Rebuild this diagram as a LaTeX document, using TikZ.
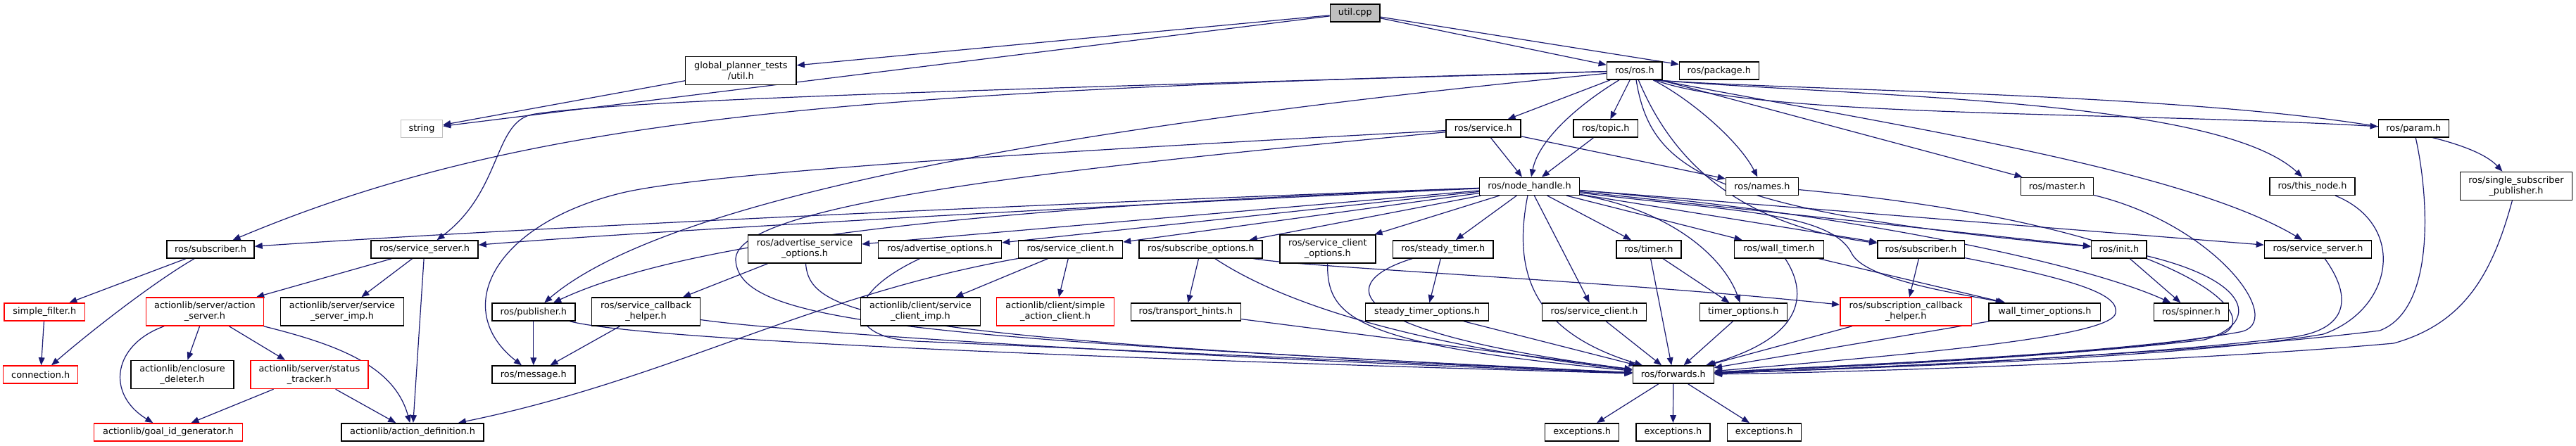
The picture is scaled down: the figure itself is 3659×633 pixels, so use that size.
\documentclass[tikz,border=0pt]{standalone}
\usepackage{fontspec}
\setmainfont{DejaVu Sans}
\usetikzlibrary{arrows.meta}
\definecolor{edgec}{HTML}{191970}
\definecolor{grey75}{HTML}{BFBFBF}
\pgfdeclarelayer{edgelayer}
\pgfsetlayers{edgelayer,main}
\begin{document}
\begin{tikzpicture}[x=0.5pt,y=-0.5pt,
  box/.style={draw=black, line width=0.75pt, fill=white, inner xsep=3pt, inner ysep=0pt, align=center,
     minimum height=12.5pt, font=\fontsize{6.42pt}{7.5pt}\selectfont},
  two/.style={minimum height=20pt},
  trunc/.style={draw=red},
  e/.style={draw=edgec, line width=0.6pt, -{Triangle[length=5.5pt,width=4.4pt]}}]
\useasboundingbox (0,0) rectangle (3659,633);
% row 0
\node[box, fill=grey75, minimum width=35.4pt] (util) at (1924.8,18.4) {util.cpp};
% row 1
\node[box, two, minimum width=78.7pt] (gpt) at (1052.4,100.3) {global\_planner\_tests\\/util.h};
\node[box, minimum width=39.4pt] (ros) at (2321.8,100.5) {ros/ros.h};
\node[box, minimum width=56.5pt] (pkg) at (2441.8,100.5) {ros/package.h};
% row 2
\node[box, draw=grey75, minimum width=29.5pt] (string) at (599,183) {string};
\node[box, minimum width=52.8pt] (service) at (2107,182.7) {ros/service.h};
\node[box, minimum width=45.7pt] (topic) at (2280.7,182.7) {ros/topic.h};
\node[box, minimum width=50pt] (param) at (3428.3,182.7) {ros/param.h};
% row 3
\node[box, minimum width=70.8pt] (nh) at (2172.5,264.8) {ros/node\_handle.h};
\node[box, minimum width=51.5pt] (names) at (2503,264.8) {ros/names.h};
\node[box, minimum width=51.5pt] (master) at (2921.9,264.8) {ros/master.h};
\node[box, minimum width=60.5pt] (thisnode) at (3284.5,264.8) {ros/this\_node.h};
\node[box, two, minimum width=79.7pt] (ssp) at (3574,264.4) {ros/single\_subscriber\\\_publisher.h};
% row 4
\node[box, minimum width=62pt] (subL) at (299,354.5) {ros/subscriber.h};
\node[box, minimum width=76pt] (ssL) at (603,354.5) {ros/service\_server.h};
\node[box, two, minimum width=80.5pt] (advso) at (1143,354) {ros/advertise\_service\\\_options.h};
\node[box, minimum width=87.5pt] (advo) at (1335,354.3) {ros/advertise\_options.h};
\node[box, minimum width=74pt] (scU) at (1520.5,354.3) {ros/service\_client.h};
\node[box, minimum width=87.5pt] (subo) at (1705.7,354.3) {ros/subscribe\_options.h};
\node[box, two, minimum width=68pt] (sco) at (1885.8,354) {ros/service\_client\\\_options.h};
\node[box, minimum width=71.4pt] (steady) at (2049.7,354.3) {ros/steady\_timer.h};
\node[box, minimum width=46pt] (timer) at (2342,354.3) {ros/timer.h};
\node[box, minimum width=63.5pt] (wall) at (2527,354.3) {ros/wall\_timer.h};
\node[box, minimum width=61.7pt] (subR) at (2728.6,354.3) {ros/subscriber.h};
\node[box, minimum width=39.3pt] (init) at (3009.9,354.3) {ros/init.h};
\node[box, minimum width=76pt] (ssR) at (3292.5,354.3) {ros/service\_server.h};
% row 5
\node[box, trunc, minimum width=57.3pt] (simple) at (63.3,443.5) {simple\_filter.h};
\node[box, two, trunc, minimum width=83.3pt] (as) at (291,443) {actionlib/server/action\\\_server.h};
\node[box, two, minimum width=87.5pt] (ssimp) at (486,443) {actionlib/server/service\\\_server\_imp.h};
\node[box, minimum width=59pt] (pub) at (757.8,443.5) {ros/publisher.h};
\node[box, two, minimum width=77pt] (sch) at (917.5,443) {ros/service\_callback\\\_helper.h};
\node[box, two, minimum width=85pt] (scimp) at (1307.4,443) {actionlib/client/service\\\_client\_imp.h};
\node[box, two, trunc, minimum width=83.5pt] (sac) at (1499,443) {actionlib/client/simple\\\_action\_client.h};
\node[box, minimum width=78pt] (th) at (1684.4,443.5) {ros/transport\_hints.h};
\node[box, minimum width=87.4pt] (sto) at (2027,443.5) {steady\_timer\_options.h};
\node[box, minimum width=74pt] (scL) at (2264.5,443.5) {ros/service\_client.h};
\node[box, minimum width=62pt] (to) at (2476.3,443.5) {timer\_options.h};
\node[box, two, trunc, minimum width=93.4pt] (subcb) at (2707.2,443) {ros/subscription\_callback\\\_helper.h};
\node[box, minimum width=79.3pt] (wto) at (2904.3,443.5) {wall\_timer\_options.h};
\node[box, minimum width=52.8pt] (spin) at (3112.5,443.5) {ros/spinner.h};
% row 6
\node[box, trunc, minimum width=53pt] (conn) at (57.7,532.5) {connection.h};
\node[box, two, minimum width=73pt] (encl) at (259,532.5) {actionlib/enclosure\\\_deleter.h};
\node[box, two, trunc, minimum width=83.5pt] (st) at (439.4,532.5) {actionlib/server/status\\\_tracker.h};
\node[box, minimum width=59pt] (msg) at (757.8,532.5) {ros/message.h};
\node[box, minimum width=57.5pt] (fwd) at (2376.8,532.5) {ros/forwards.h};
% row 7
\node[box, trunc, minimum width=105.5pt] (gid) at (239,614.3) {actionlib/goal\_id\_generator.h};
\node[box, minimum width=101pt] (ad) at (586,614.3) {actionlib/action\_definition.h};
\node[box, minimum width=52.5pt] (ex1) at (2247.2,614.3) {exceptions.h};
\node[box, minimum width=52.5pt] (ex2) at (2376.4,614.3) {exceptions.h};
\node[box, minimum width=52.5pt] (ex3) at (2505.8,614.3) {exceptions.h};

\begin{pgfonlayer}{edgelayer}
\draw[e] (util) -- (gpt);
\draw[e] (util) -- (string);
\draw[e] (util) -- (ros);
\draw[e] (util) -- (pkg);
\draw[e] (gpt) -- (string);
% ros/ros.h
\draw[e] (ros) .. controls (1200,130) and (750,165) .. (subL);
\draw[e] (ros) .. controls (1500,125) and (900,140) .. (760,162) .. controls (700,170) and (715,270) .. (ssL);
\draw[e] (ros) .. controls (1600,170) and (960,270) .. (pub);
\draw[e] (ros) -- (service);
\draw[e] (ros) .. controls (2240,150) and (2185,200) .. (nh);
\draw[e] (ros) -- (topic);
\draw[e] (ros) .. controls (2400,140) and (2470,200) .. (names);
\draw[e] (ros.-20) -- (master);
\draw[e] (ros.-25) .. controls (2500,168) and (3000,158) .. (param);
\draw[e] (ros.-25) .. controls (2600,133) and (3450,133) .. (ssp);
\draw[e] (ros.-25) .. controls (2650,138) and (3150,140) .. (thisnode);
\draw[e] (ros.-22) .. controls (2700,180) and (3100,240) .. (ssR);
\draw[e] (ros) .. controls (2345,240) and (2420,300) .. (init);
\draw[e] (ros) .. controls (2380,240) and (2480,320) .. (subR);
% ros/service.h, topic
\draw[e] (service) -- (nh);
\draw[e] (service) -- (names);
\draw[e] (service) .. controls (1500,215) and (1000,245) .. (880,275) .. controls (700,320) and (640,440) .. (msg);
\draw[e] (service) .. controls (1500,240) and (1040,290) .. (1045,370) .. controls (1050,460) and (1300,480) .. (fwd);
\draw[e] (topic) -- (nh);
% node_handle
\draw[e] (nh) .. controls (1600,285) and (800,320) .. (subL);
\draw[e] (nh) .. controls (1600,290) and (900,330) .. (ssL);
\draw[e] (nh) .. controls (1500,290) and (1000,330) .. (pub);
\draw[e] (nh) -- (advso);
\draw[e] (nh) -- (advo);
\draw[e] (nh) -- (scU);
\draw[e] (nh) -- (subo);
\draw[e] (nh) -- (sco);
\draw[e] (nh) -- (steady);
\draw[e] (nh) -- (timer);
\draw[e] (nh) -- (scL);
\draw[e] (nh) .. controls (2150,380) and (2170,470) .. (fwd);
\draw[e] (nh) .. controls (2380,300) and (2450,370) .. (to);
\draw[e] (nh) -- (wall);
\draw[e] (nh) -- (subR);
\draw[e] (nh) -- (init);
\draw[e] (nh) -- (ssR);
\draw[e] (nh) .. controls (2600,300) and (2950,370) .. (spin);
\draw[e] (nh) .. controls (2450,300) and (2600,300) .. (2630,360) .. controls (2650,400) and (2800,420) .. (wto);
% left part
\draw[e] (subL) -- (simple);
\draw[e] (subL) .. controls (220,400) and (130,470) .. (conn);
\draw[e] (simple) -- (conn);
\draw[e] (ssL) -- (as);
\draw[e] (ssL) -- (ssimp);
\draw[e] (ssL) -- (ad);
\draw[e] (as) -- (encl);
\draw[e] (as) -- (st);
\draw[e] (as) .. controls (160,490) and (150,560) .. (gid);
\draw[e] (as) .. controls (480,490) and (560,520) .. (ad);
\draw[e] (st) -- (gid);
\draw[e] (st) -- (ad);
\draw[e] (pub) -- (msg);
\draw[e] (pub) .. controls (900,480) and (1400,505) .. (fwd);
\draw[e] (sch) -- (msg);
\draw[e] (sch) .. controls (1100,470) and (1600,505) .. (fwd);
\draw[e] (advso) -- (sch);
\draw[e] (advso) .. controls (1150,450) and (1250,480) .. (fwd);
\draw[e] (advo) .. controls (1195,420) and (1200,480) .. (1300,485) -- (fwd);
\draw[e] (scU) -- (scimp);
\draw[e] (scU) -- (sac);
\draw[e] (scU) .. controls (1150,420) and (950,540) .. (ad);
\draw[e] (subo) -- (th);
\draw[e] (subo) .. controls (1820,430) and (2000,490) .. (fwd);
\draw[e] (subo) .. controls (1850,380) and (2300,400) .. (subcb);
\draw[e] (th) -- (fwd);
\draw[e] (sco) .. controls (1885,450) and (1920,490) .. (fwd);
\draw[e] (steady) -- (sto);
\draw[e] (steady) .. controls (1900,400) and (1890,470) .. (fwd);
\draw[e] (sto) -- (fwd);
\draw[e] (scL) -- (fwd);
\draw[e] (timer) -- (fwd);
\draw[e] (timer) -- (to);
\draw[e] (to) -- (fwd);
\draw[e] (wall) -- (wto);
\draw[e] (wall) .. controls (2570,420) and (2560,480) .. (fwd);
\draw[e] (subR) -- (subcb);
\draw[e] (subR) .. controls (2960,400) and (3010,420) .. (3005,445) .. controls (3000,480) and (2700,505) .. (fwd);
\draw[e] (subcb) -- (fwd);
\draw[e] (wto) -- (fwd);
\draw[e] (init) -- (spin);
\draw[e] (init) .. controls (3200,400) and (3210,460) .. (3131,483) .. controls (2900,510) and (2600,522) .. (fwd);
\draw[e] (names) .. controls (3100,320) and (3230,455) .. (3150,477) .. controls (3000,505) and (2600,520) .. (fwd);
\draw[e] (master) .. controls (3150,320) and (3250,460) .. (3181,472) .. controls (3000,505) and (2600,520) .. (fwd);
\draw[e] (ssR) .. controls (3340,420) and (3340,470) .. (3250,480) .. controls (3000,510) and (2600,525) .. (fwd);
\draw[e] (thisnode) .. controls (3420,320) and (3400,440) .. (3300,475) .. controls (3100,510) and (2600,525) .. (fwd);
\draw[e] (param) .. controls (3450,280) and (3460,440) .. (3380,470) .. controls (3100,505) and (2600,525) .. (fwd);
\draw[e] (ssp) .. controls (3540,390) and (3500,460) .. (3400,488) .. controls (3100,515) and (2600,530) .. (fwd);
\draw[e] (fwd) -- (ex1);
\draw[e] (fwd) -- (ex2);
\draw[e] (fwd) -- (ex3);
\end{pgfonlayer}
\end{tikzpicture}
\end{document}
